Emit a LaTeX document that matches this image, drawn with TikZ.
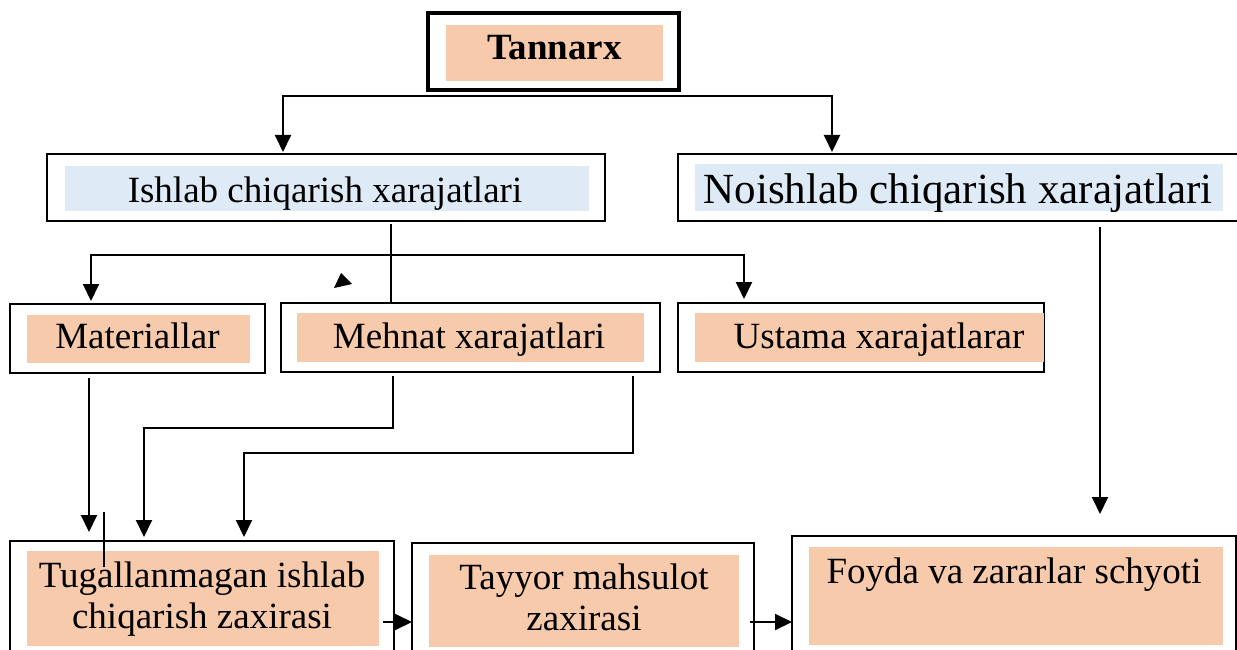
\documentclass[tikz,border=0pt]{standalone}
\usepackage{fontspec}
\setmainfont{Liberation Serif}
\usetikzlibrary{arrows.meta}
\definecolor{peach}{HTML}{F7CAAC}
\definecolor{paleblue}{HTML}{DEEAF6}
\begin{document}
\begin{tikzpicture}[x=1pt,y=-1pt,
  frame/.style={draw=black,line width=2.4pt,inner sep=0pt,outer sep=0pt},
  peachfill/.style={fill=peach,draw=none,inner sep=0pt,outer sep=0pt},
  bluefill/.style={fill=paleblue,draw=none,inner sep=0pt,outer sep=0pt},
  label/.style={anchor=base,inner sep=0pt,font=\fontsize{37}{41}\selectfont,align=center},
  conn/.style={line width=2pt},
  arr/.style={conn,-{Triangle[length=17pt,width=16pt]}},
  arrboth/.style={conn,{Triangle[length=17pt,width=16pt]}-{Triangle[length=17pt,width=16pt]}}]
\useasboundingbox (0,0) rectangle (1237,650);
\clip (0,0) rectangle (1237,650);

% top level
\node[frame,line width=3.4pt,minimum width=251pt,minimum height=77pt] (tanbox) at (553.5,51.5) {};
\node[peachfill,minimum width=217pt,minimum height=56pt] (tanfill) at (554.5,53) {};
\node[label,font=\fontsize{37}{41}\selectfont\bfseries] (tantext) at (554.5,60) {Tannarx};

% second level
\node[frame,minimum width=558pt,minimum height=67pt] (ishbox) at (326,187.5) {};
\node[bluefill,minimum width=524pt,minimum height=45pt] (ishfill) at (327,188.5) {};
\node[label] (ishtext) at (325,202) {Ishlab chiqarish xarajatlari};

\node[frame,minimum width=562pt,minimum height=67pt] (noibox) at (959,187.5) {};
\node[bluefill,minimum width=528pt,minimum height=47pt] (noifill) at (959,187.5) {};
\begin{scope}
  \clip (noifill.north west) rectangle (noifill.south east);
  \node[label,font=\fontsize{43}{47}\selectfont] (noitext) at (958,204) {Noishlab chiqarish xarajatlari};
\end{scope}

% cost items
\node[frame,minimum width=255pt,minimum height=69pt] (matbox) at (137.5,338.5) {};
\node[peachfill,minimum width=223pt,minimum height=48pt] (matfill) at (138.5,339) {};
\node[label] (mattext) at (137.5,348) {Materiallar};

\node[frame,minimum width=379pt,minimum height=69pt] (mehbox) at (470.5,337.5) {};
\node[peachfill,minimum width=347pt,minimum height=49pt] (mehfill) at (470.5,337.5) {};
\node[label] (mehtext) at (469,348) {Mehnat xarajatlari};

\node[frame,minimum width=366pt,minimum height=69pt] (ustbox) at (861,337.5) {};
\node[peachfill,minimum width=349pt,minimum height=49pt] (ustfill) at (869.5,337.5) {};
\node[label] (usttext) at (879,348) {Ustama xarajatlarar};

% stocks and result (two-line labels sit on the baseline of their last line)
\node[frame,minimum width=384pt,minimum height=129pt] (tugbox) at (202,605.5) {};
\node[peachfill,minimum width=352pt,minimum height=95pt] (tugfill) at (203,598.5) {};
\node[label] (tugtext) at (202,628) {Tugallanmagan ishlab\\chiqarish zaxirasi};

\node[frame,minimum width=342pt,minimum height=127pt] (taybox) at (583,606.5) {};
\node[peachfill,minimum width=310pt,minimum height=92pt] (tayfill) at (584,601) {};
\node[label] (taytext) at (584,630) {Tayyor mahsulot\\zaxirasi};

\node[frame,minimum width=444pt,minimum height=134pt] (foybox) at (1014,603) {};
\node[peachfill,minimum width=414pt,minimum height=98pt] (foyfill) at (1016,596) {};
\node[label] (foytext) at (1014,583) {Foyda va zararlar schyoti};

% connector points
\coordinate (barA) at (283,96);
\coordinate (barB) at (832,96);
\coordinate (barC) at (91,255);
\coordinate (barD) at (744,255);
\coordinate (stemI) at (391,255);
\coordinate (dm) at (89,378);
\coordinate (e1) at (393,376);
\coordinate (e1b) at (144,428);
\coordinate (e2) at (633,376);
\coordinate (e2b) at (244,453);
\coordinate (n1) at (1100,227);
\coordinate (s1) at (103.5,512);
\coordinate (s2) at (103.5,567);
\coordinate (h1) at (383,622);
\coordinate (h2) at (750,622);

% connectors
\draw[arrboth,shorten <=2pt,shorten >=2pt]
  (ishbox.north -| barA) -- (barA) -- (barB) -- (noibox.north -| barB);
\draw[conn,shorten <=3pt] (ishbox.south -| stemI) -- (mehbox.north -| stemI);
\draw[arrboth,shorten <=3pt,shorten >=4pt]
  (matbox.north -| barC) -- (barC) -- (barD) -- (ustbox.north -| barD);
\fill (334,288) -- (341,273) -- (352,284) -- cycle;

\draw[arr,shorten >=9pt] (dm) -- (dm |- tugbox.north);
\draw[arr,shorten >=4pt] (e1) |- (e1b) -- (e1b |- tugbox.north);
\draw[arr,shorten >=4pt] (e2) |- (e2b) -- (e2b |- tugbox.north);
\draw[conn] (s1) -- (s2);
\draw[arr,shorten >=22pt] (n1) -- (n1 |- foybox.north);

\draw[arr] (h1) -- (h1 -| taybox.west);
\draw[arr] (h2) -- (h2 -| foybox.west);
\end{tikzpicture}
\end{document}
